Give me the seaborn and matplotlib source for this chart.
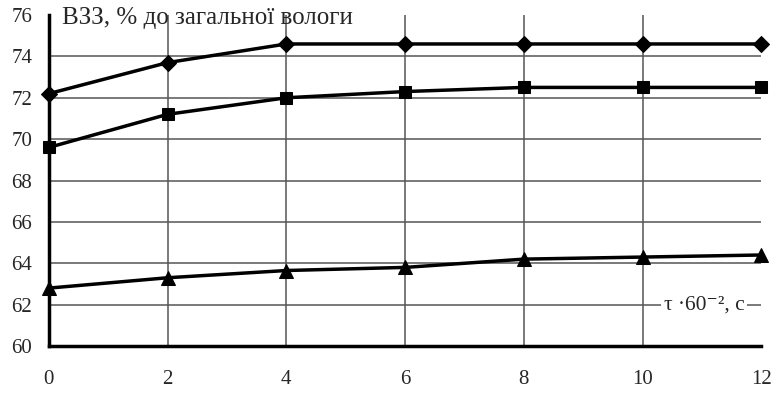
import matplotlib
matplotlib.use("Agg")
import matplotlib.pyplot as plt
import seaborn as sns
import pandas as pd

# time, tau * 60^-2, s
tau = [0, 2, 4, 6, 8, 10, 12]
# bound water share, % of total moisture
series_diamond = [72.2, 73.7, 74.6, 74.6, 74.6, 74.6, 74.6]
series_square = [69.6, 71.2, 72.0, 72.3, 72.5, 72.5, 72.5]
series_triangle = [62.8, 63.3, 63.65, 63.8, 64.2, 64.3, 64.4]
y_ticks = [60, 62, 64, 66, 68, 70, 72, 74, 76]

sns.set_style("white")
plt.rcParams['font.family'] = ['Liberation Serif', 'DejaVu Serif']

df = pd.DataFrame({
    'tau': tau * 3,
    'value': series_diamond + series_square + series_triangle,
    'series': ['d'] * 7 + ['s'] * 7 + ['t'] * 7,
})

fig = plt.figure(figsize=(7.76, 3.95), dpi=100)
ax = fig.add_axes([0.063, 0.124, 0.918, 0.838])

for name, mk, ms in [('d', 'D', 8), ('s', 's', 9), ('t', '^', 10)]:
    sub = df[df['series'] == name]
    sns.lineplot(data=sub, x='tau', y='value', ax=ax, color='black',
                 linewidth=2.5, marker=mk, markersize=ms,
                 markeredgecolor='black', clip_on=False, zorder=3)

ax.set_xlim(0, 12)
ax.set_ylim(60, 76)
ax.set_xticks(tau)
ax.set_yticks(y_ticks)
ax.set_xlabel('')
ax.set_ylabel('')

ax.grid(True, color='#555555', linewidth=1.1)
ax.xaxis.get_gridlines()[-1].set_visible(False)
ax.yaxis.get_gridlines()[-1].set_visible(False)

for s in ['top', 'right']:
    ax.spines[s].set_visible(False)
for s in ['left', 'bottom']:
    ax.spines[s].set_linewidth(2.5)
    ax.spines[s].set_color('black')

ax.tick_params(axis='both', direction='out', length=5, width=2.5,
               labelsize=15, color='black')
ax.tick_params(axis='x', pad=12)
ax.tick_params(axis='y', pad=7)

ax.text(0.018, 0.99, 'ВЗЗ, % до загальної вологи', transform=ax.transAxes,
        fontsize=18, va='center', ha='left')
ax.text(11.72, 62, 'τ ·60⁻², с', fontsize=15.5, ha='right', va='center',
        bbox=dict(facecolor='white', edgecolor='none', pad=2))

fig.savefig('out.png', dpi=100)
